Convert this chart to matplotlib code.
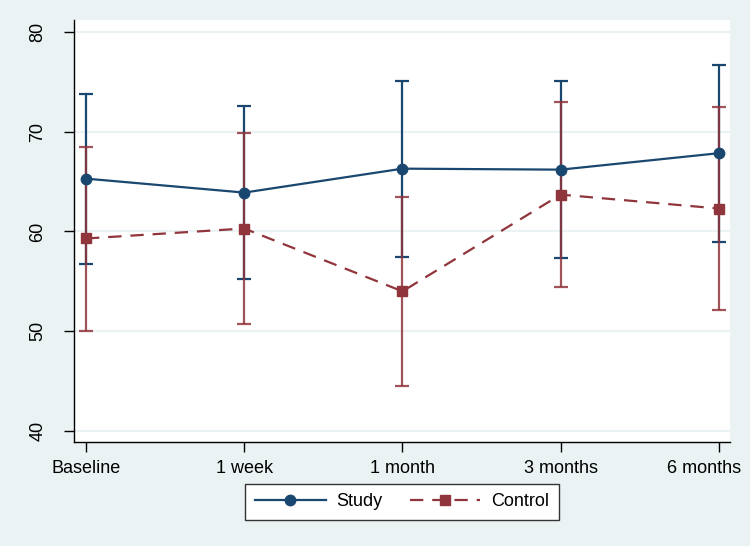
import matplotlib.pyplot as plt
import matplotlib.transforms as mtransforms
import numpy as np

plt.rcParams['font.family'] = ['Liberation Sans', 'DejaVu Sans']

timepoints = ["Baseline", "1 week", "1 month", "3 months", "6 months"]
study_mean = [65.3, 63.9, 66.3, 66.2, 67.85]
study_low = [56.7, 55.2, 57.4, 57.3, 58.9]
study_high = [73.8, 72.6, 75.1, 75.1, 76.7]
control_mean = [59.3, 60.3, 54.0, 63.7, 62.3]
control_low = [50.0, 50.7, 44.5, 54.4, 52.1]
control_high = [68.5, 69.9, 63.5, 73.0, 72.5]

navy = "#1a476f"
maroon = "#90353b"
bg = "#eaf2f3"

x = np.arange(len(timepoints))
s_mean = np.array(study_mean)
c_mean = np.array(control_mean)
s_err = [s_mean - np.array(study_low), np.array(study_high) - s_mean]
c_err = [c_mean - np.array(control_low), np.array(control_high) - c_mean]

fig = plt.figure(figsize=(7.5, 5.46), dpi=100, facecolor=bg)
ax = fig.add_axes([74 / 750, 1 - 442 / 546, 656 / 750, 422 / 546])
ax.set_facecolor("white")

# error bars first, control over study
ax.errorbar(x, s_mean, yerr=s_err, fmt="none", ecolor=navy, elinewidth=1.6,
            capsize=5, capthick=1.6, zorder=2)
ax.errorbar(x, c_mean, yerr=c_err, fmt="none", ecolor=maroon, elinewidth=1.6,
            capsize=5, capthick=1.6, alpha=0.85, zorder=3)

ax.plot(x, s_mean, color=navy, lw=1.6, marker="o", markersize=7.5,
        label="Study", zorder=4)
ax.plot(x, c_mean, color=maroon, lw=1.6, linestyle=(0, (6, 4)), marker="s",
        markersize=7.5, label="Control", zorder=4)

ax.set_xlim(-0.076, 4.07)
ax.set_ylim(38.9, 81.2)
ax.set_yticks([40, 50, 60, 70, 80])
ax.set_xticks(x)
ax.set_xticklabels(timepoints)
ax.grid(axis="y", color=bg, lw=1.5, zorder=0)
ax.set_axisbelow(True)

for side in ["top", "right"]:
    ax.spines[side].set_visible(False)
for side in ["left", "bottom"]:
    ax.spines[side].set_linewidth(1.0)
    ax.spines[side].set_color("black")

ax.tick_params(axis="both", length=7, width=1, labelsize=13)
ax.tick_params(axis="x", pad=6)
ax.tick_params(axis="y", pad=13)
for lbl in ax.get_yticklabels():
    lbl.set_rotation(90)
    lbl.set_verticalalignment("center")

# last label is pushed left so it stays inside the figure
last = ax.get_xticklabels()[-1]
last.set_transform(last.get_transform() +
                   mtransforms.ScaledTranslation(-0.15, 0, fig.dpi_scale_trans))

leg = fig.legend(loc="center", bbox_to_anchor=(402 / 750, 1 - 502 / 546),
                 ncol=2, fontsize=13, frameon=True, fancybox=False,
                 framealpha=1, facecolor="white",
                 handlelength=3.9, columnspacing=1.5, borderpad=0.55,
                 handletextpad=0.6)
leg.get_frame().set_edgecolor("#333333")
leg.get_frame().set_linewidth(1.0)

fig.savefig("out.png", dpi=100, facecolor=bg)
